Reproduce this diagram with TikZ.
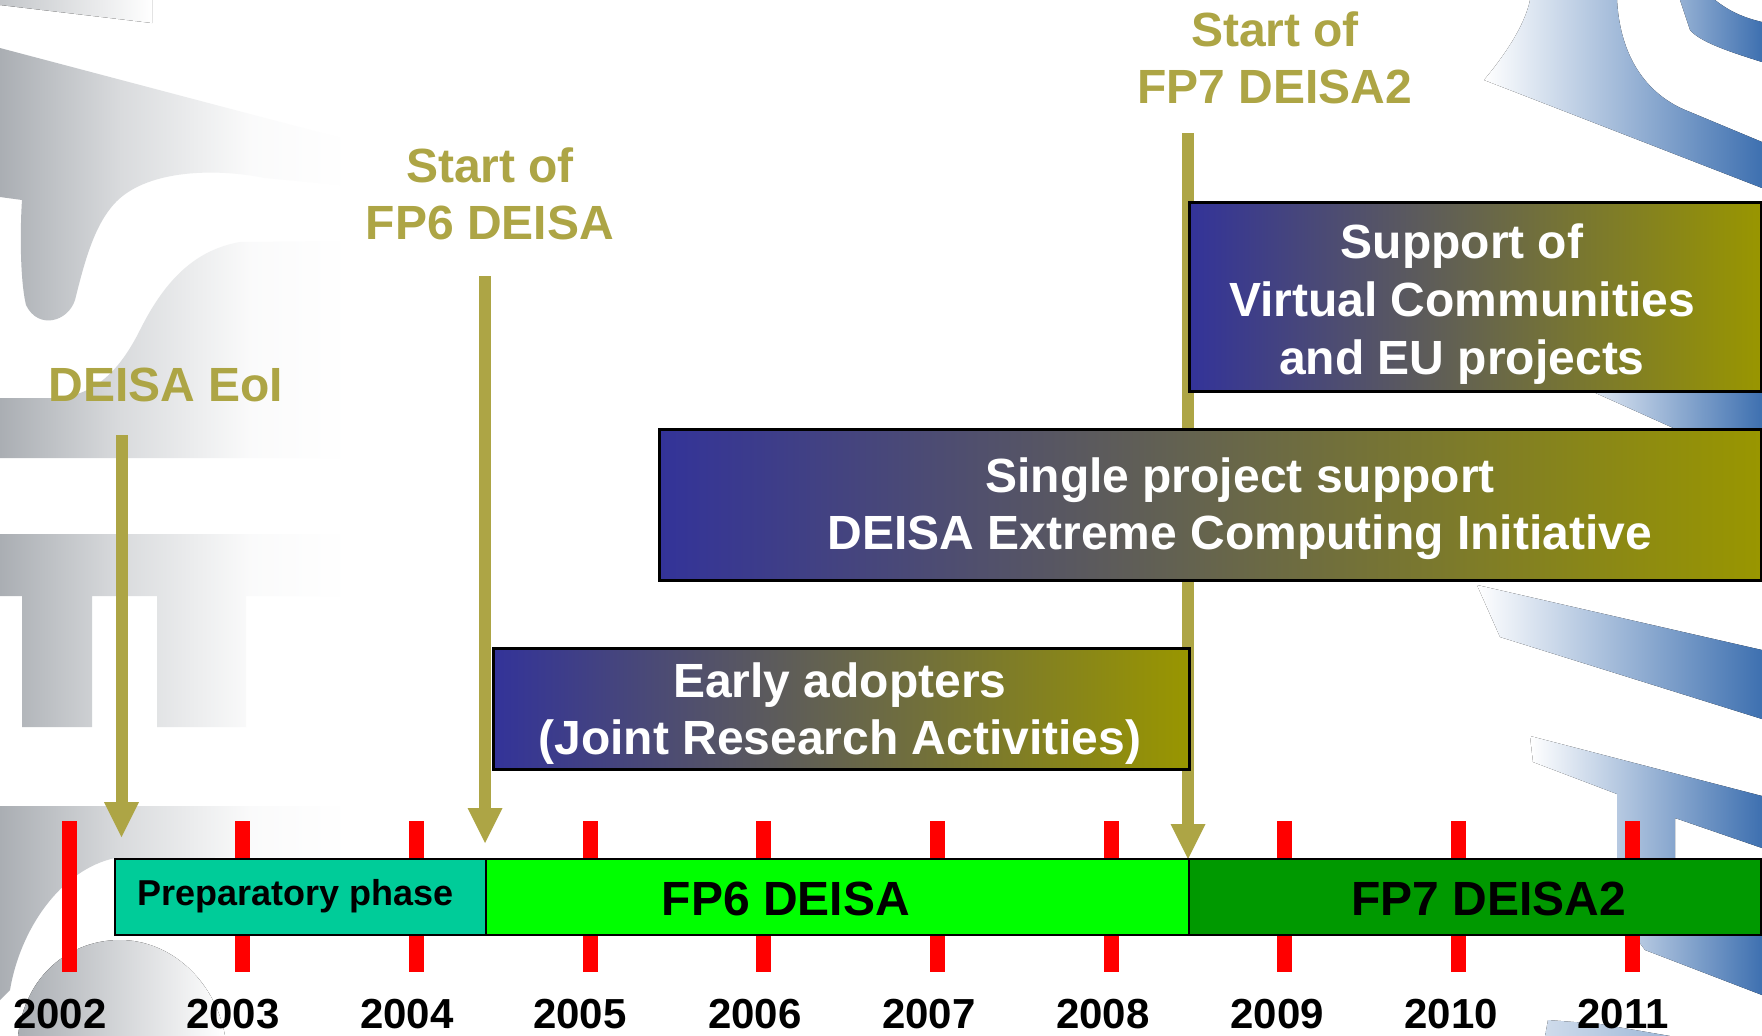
\documentclass[tikz,border=0pt]{standalone}
\usepackage{fontspec}
\setmainfont{Liberation Sans}
\usetikzlibrary{arrows.meta}
\definecolor{arrowol}{RGB}{173,165,69}
\definecolor{gbL}{RGB}{51,51,153}
\definecolor{gbR}{RGB}{153,150,0}
\definecolor{prepc}{RGB}{0,204,153}
\definecolor{fpsix}{RGB}{0,255,0}
\definecolor{fpseven}{RGB}{0,153,0}
\definecolor{wmgray}{RGB}{170,174,179}
\colorlet{wmmid}{white!55!wmgray}
\colorlet{wmnear}{white!94!wmgray}
\definecolor{wmblue}{RGB}{62,112,176}
\definecolor{tickred}{RGB}{255,0,0}
\pgfdeclarehorizontalshading{wmfade}{100bp}{color(0bp)=(wmgray); color(25bp)=(wmgray); color(37bp)=(wmmid); color(50bp)=(wmnear); color(60bp)=(white); color(100bp)=(white)}
\newcommand{\lblfont}{\fontsize{48}{57}\selectfont\bfseries}
\newcommand{\yrfont}{\fontsize{42}{50}\selectfont\bfseries}
\newcommand{\prepfont}{\fontsize{36}{43}\selectfont\bfseries}
\begin{document}
\begin{tikzpicture}[x=1pt,y=-1pt,
  wmg/.style={shading=wmfade,shade,draw=none},
  wmb/.style={left color=white,right color=wmblue,draw=none},
  arr/.style={line width=12pt,draw=arrowol,-{Triangle[width=35pt,length=35pt,line width=0pt]}},
  tickmark/.style={line width=15pt,draw=tickred},
  barseg/.style={draw=black,line width=2pt,inner sep=0pt,minimum height=76pt,anchor=north west},
  gbox/.style={draw=black,line width=2.5pt,left color=gbL,right color=gbR,inner sep=0pt,anchor=north west},
  evt/.style={text=arrowol,font=\lblfont,align=center,anchor=base,inner sep=0pt},
  boxtxt/.style={text=white,font=\lblfont,align=center,anchor=base,inner sep=0pt},
  bartxt/.style={text=black,font=\lblfont,anchor=base,inner sep=0pt},
  yr/.style={text=black,font=\yrfont,anchor=base,inner sep=0pt}]
\useasboundingbox (0,0) rectangle (1762,1036);
\fill[white] (0,0) rectangle (1762,1036);

% ---- grey watermark (left), fading to white towards x = 250
\fill[left color=wmgray!70!white,right color=white] (0,0) -- (152,0) -- (152,23) -- (0,5) -- cycle;
\path[wmg] (0,48) -- (500,180) -- (500,200) -- (265,178) .. controls (215,168) and (150,170) .. (118,200)
  .. controls (95,222) and (85,260) .. (75,300) .. controls (68,322) and (38,330) .. (26,305)
  .. controls (20,280) and (20,230) .. (22,200) -- (0,197) -- cycle;
\path[wmg] (0,398) -- (55,398) .. controls (95,396) and (120,370) .. (140,330)
  .. controls (165,280) and (195,250) .. (240,242) -- (500,240) -- (500,458) -- (0,458) -- cycle;
\path[wmg] (0,534) -- (500,534) -- (500,596) -- (246,596) -- (246,727) -- (157,727) -- (157,596)
  -- (92,596) -- (92,727) -- (22,727) -- (22,596) -- (0,596) -- cycle;
\path[wmg] (0,806) -- (500,806) -- (500,857) -- (115,858) .. controls (60,870) and (20,930) .. (10,990)
  -- (0,1000) -- cycle;
\fill[left color=wmgray,right color=white] (18,1036) .. controls (25,975) and (70,940) .. (120,940) .. controls (170,940) and (215,980) .. (225,1036) -- cycle;

% ---- blue watermark (right)
\fill[left color=wmblue!55!white,right color=wmblue] (1680,0) -- (1715,0) .. controls (1730,12) and (1745,18) .. (1762,22)
  -- (1762,62) .. controls (1730,52) and (1700,42) .. (1690,30) -- cycle;
\fill[wmb] (1530,0) -- (1617,0) .. controls (1620,55) and (1645,95) .. (1690,112) -- (1762,142)
  -- (1762,188) -- (1484,80) .. controls (1505,55) and (1525,25) .. (1530,0) -- cycle;
\fill[wmb] (1560,377) -- (1762,377) -- (1762,440) -- (1700,440) -- cycle;
\fill[wmb] (1477,585) -- (1762,650) -- (1762,719) -- (1500,637) -- cycle;
\fill[wmb] (1530,736) -- (1762,796) -- (1762,848) -- (1675,818) -- (1675,858) -- (1617,858)
  -- (1617,794) -- (1533,762) -- cycle;
\fill[left color=wmblue!35!white,right color=wmblue] (1633,934) -- (1762,934) -- (1762,995) -- (1645,950) -- cycle;
\fill[left color=wmblue!25!white,right color=wmblue!50!white] (1545,1036) -- (1548,1020) -- (1600,1024) -- (1670,1036) -- cycle;

% ---- event labels and arrows (base anchor = last line)
\node[evt] (eoiLbl) at (166,401) {DEISA EoI};
\node[evt] (fp6Lbl) at (490,239) {Start of\\FP6 DEISA};
\node[evt] (fp7Lbl) at (1275,103) {Start of\\FP7 DEISA2};
\coordinate (eoiS) at (121.5,435);  \coordinate (eoiE) at (121.5,837);
\coordinate (fp6S) at (485,276);    \coordinate (fp6E) at (485,843);
\coordinate (fp7S) at (1188,133);   \coordinate (fp7E) at (1188,859);
\draw[arr] (eoiS) -- (eoiE);
\draw[arr] (fp6S) -- (fp6E);
\draw[arr] (fp7S) -- (fp7E);

% ---- year ticks
\foreach \i in {0,...,9} \draw[tickmark] ({69+173.7*\i},821) -- ({69+173.7*\i},972);

% ---- phase bar
\node[barseg,fill=prepc,minimum width=371pt] (prep) at (114,858) {};
\node[barseg,fill=fpsix,minimum width=703pt] (fp6) at (485,858) {};
\node[barseg,fill=fpseven,minimum width=572pt] (fp7) at (1188,858) {};
\node[text=black,font=\prepfont,anchor=base,inner sep=0pt] (prepTxt) at (296,905) {Preparatory phase};
\node[bartxt] (fp6Txt) at (786,915) {FP6 DEISA};
\node[bartxt] (fp7Txt) at (1489,915) {FP7 DEISA2};

% ---- activity boxes
\node[gbox,minimum width=696pt,minimum height=121pt] (early) at (492,647) {};
\node[gbox,minimum width=1102pt,minimum height=151pt] (single) at (658,428) {};
\node[gbox,minimum width=572pt,minimum height=189pt] (support) at (1188,201) {};
\node[boxtxt] (earlyTxt) at (840,754) {Early adopters\\(Joint Research Activities)};
\node[boxtxt] (singleTxt) at (1240,549.5) {Single project support\\DEISA Extreme Computing Initiative};
\node[boxtxt,font=\fontsize{48}{58}\selectfont\bfseries] (supportTxt) at (1462,374) {Support of\\Virtual Communities\\and EU projects};

% ---- years
\foreach \y/\xx in {2002/60,2003/233,2004/407,2005/580,2006/755,2007/929,2008/1103,2009/1277,2010/1451,2011/1623}
  \node[yr] (y\y) at (\xx,1028) {\y};
\end{tikzpicture}
\end{document}
